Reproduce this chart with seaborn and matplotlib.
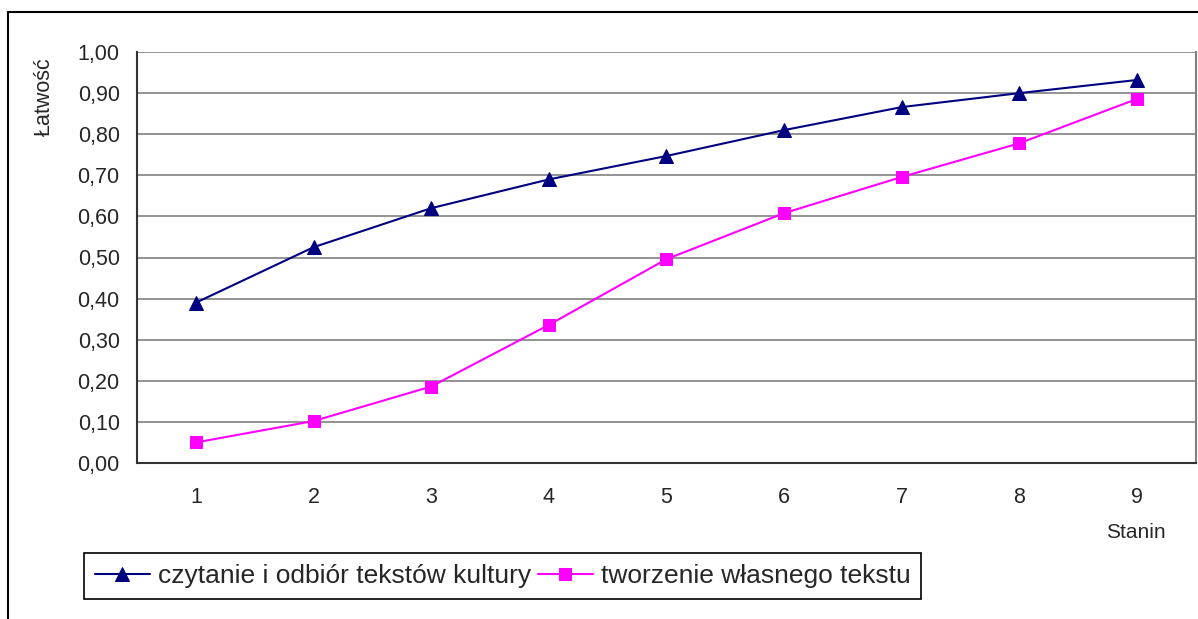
import matplotlib
matplotlib.use("Agg")
import matplotlib.pyplot as plt
from matplotlib.lines import Line2D
import seaborn as sns
import pandas as pd

stanin = [1, 2, 3, 4, 5, 6, 7, 8, 9]
czytanie = [0.39, 0.525, 0.62, 0.69, 0.747, 0.81, 0.866, 0.90, 0.932]
tworzenie = [0.05, 0.102, 0.186, 0.336, 0.496, 0.608, 0.696, 0.778, 0.886]
series_names = ["czytanie i odbiór tekstów kultury", "tworzenie własnego tekstu"]
y_ticks = [0.0, 0.1, 0.2, 0.3, 0.4, 0.5, 0.6, 0.7, 0.8, 0.9, 1.0]

sns.set_style("white")
plt.rcParams['font.family'] = ['Liberation Sans', 'DejaVu Sans']

fig = plt.figure(figsize=(11.98, 6.19), dpi=100)
ax = fig.add_axes([137/1198, 1-463/619, (1196-137)/1198, (463-52)/619])

df1 = pd.DataFrame({"x": stanin, "y": czytanie})
df2 = pd.DataFrame({"x": stanin, "y": tworzenie})
sns.lineplot(data=df1, x="x", y="y", ax=ax, color="#000080", marker="^",
             markersize=10, markeredgecolor="#000080", linewidth=1.5,
             label=series_names[0], zorder=3)
sns.lineplot(data=df2, x="x", y="y", ax=ax, color="#FF00FF", marker="s",
             markersize=8.5, markeredgecolor="#FF00FF", linewidth=1.5,
             label=series_names[1], zorder=3)

ax.set_xlim(0.5, 9.5)
ax.set_ylim(0, 1.0)
ax.set_yticks(y_ticks)
ax.set_yticklabels([f"{v:.2f}".replace(".", ",") for v in y_ticks], fontsize=15.5)
ax.set_xticks([i + 0.5 for i in range(0, 10)])
ax.set_xticklabels([])
ax.set_xticks(stanin, minor=True)
ax.set_xticklabels([str(s) for s in stanin], minor=True, fontsize=15.5)
ax.tick_params(axis="x", which="minor", length=0, pad=17)
ax.tick_params(axis="x", which="major", length=6, width=1.2, color="#333333", direction="out")
ax.tick_params(axis="y", length=6, width=1.2, color="#333333", direction="out", pad=6.5)
ax.yaxis.grid(True, color="#808080", linewidth=1.2)
ax.set_axisbelow(True)
for side in ["left", "bottom"]:
    ax.spines[side].set_color("#333333")
    ax.spines[side].set_linewidth(1.5)
ax.spines["right"].set_color("#808080")
ax.spines["right"].set_linewidth(1.5)
ax.spines["top"].set_visible(False)

ax.set_xlabel("")
ax.set_ylabel("")
fig.text(1136/1198, 1-532/619, "Stanin", fontsize=15, ha="center", va="center")
fig.text(44/1198, 1-97/619, "Łatwość", fontsize=15.5, rotation=90, ha="center", va="center")

leg = ax.legend(loc="center left", bbox_to_anchor=(84/1198, 1-576/619),
                bbox_transform=fig.transFigure, ncol=2, fontsize=19,
                frameon=True, fancybox=False, edgecolor="black", framealpha=1,
                handlelength=2.1, handletextpad=0.3, columnspacing=0.25,
                borderpad=0.4, borderaxespad=0)
leg.get_frame().set_linewidth(1.2)

# outer chart border (top and left visible)
fig.add_artist(Line2D([8/1198, 1.0], [1-12/619, 1-12/619], transform=fig.transFigure,
                      color="black", linewidth=1.5))
fig.add_artist(Line2D([8/1198, 8/1198], [0, 1-12/619], transform=fig.transFigure,
                      color="black", linewidth=1.5))

fig.savefig("out.png", dpi=100, facecolor="white")
